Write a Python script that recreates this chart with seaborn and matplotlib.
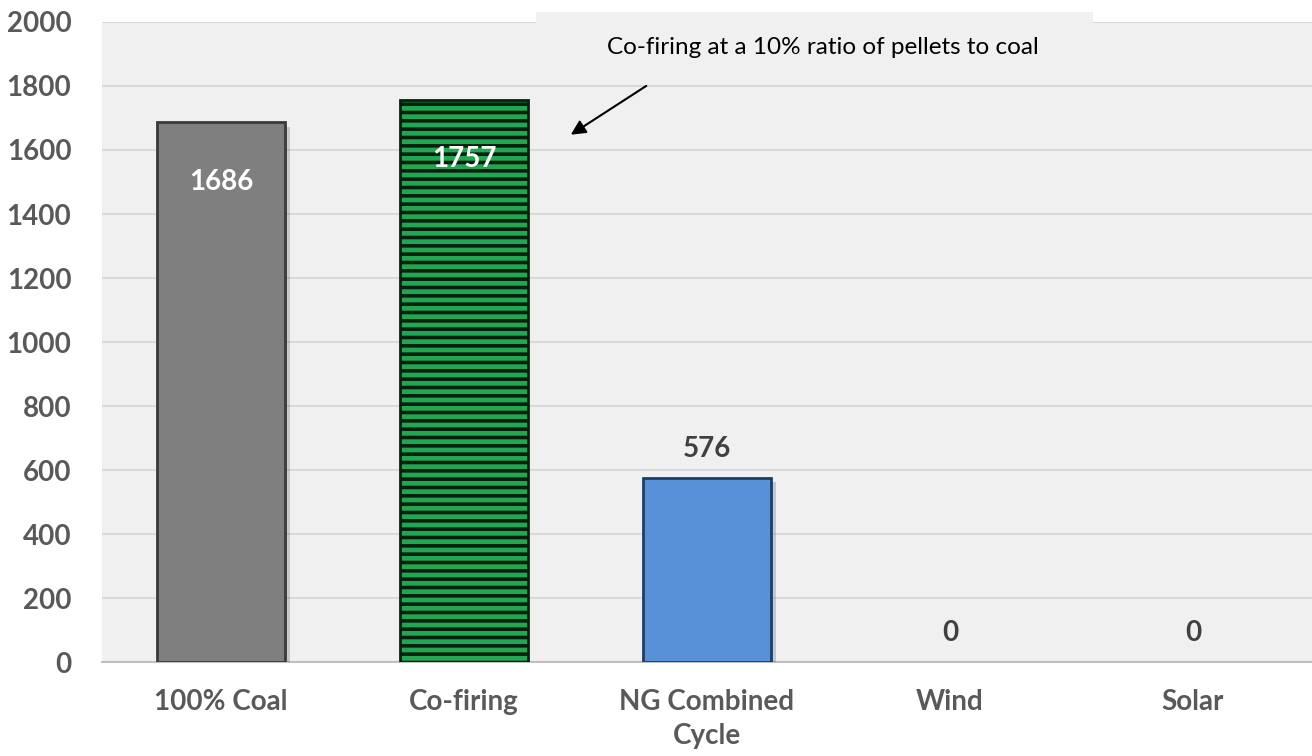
import seaborn as sns
import matplotlib.pyplot as plt
import matplotlib.patheffects as pe
import pandas as pd

categories = ["100% Coal", "Co-firing", "NG Combined\nCycle", "Wind", "Solar"]
values = [1686, 1757, 576, 0, 0]
bar_colors = ["#7f7f7f", "#22a653", "#5891d8", "#5891d8", "#5891d8"]
edge_colors = ["#3a3a3a", "#06200e", "#1f3d66", "#1f3d66", "#1f3d66"]
y_ticks = list(range(0, 2001, 200))
note = "Co-firing at a 10% ratio of pellets to coal"

sns.set_style("white")
plt.rcParams["font.family"] = ["Lato", "DejaVu Sans"]
plt.rcParams["hatch.linewidth"] = 2.6
plt.rcParams["hatch.color"] = "black"

df = pd.DataFrame({"cat": categories, "val": values})

fig = plt.figure(figsize=(13.12, 7.56), dpi=100)
ax = fig.add_axes([0.0777, 0.124, 0.9223, 0.847])
ax.set_facecolor("#f0f0f0")

sns.barplot(data=df, x="cat", y="val", hue="cat", palette=bar_colors,
            saturation=1, width=0.525, legend=False, ax=ax, zorder=3)

for i, (p, ec, v) in enumerate(zip(ax.patches, edge_colors, values)):
    p.set_edgecolor(ec)
    p.set_linewidth(2.0 if v > 0 else 0)
    if v > 0 and i != 1:
        p.set_path_effects([pe.SimplePatchShadow(offset=(4, -3), alpha=0.2),
                            pe.Normal()])
ax.patches[1].set_hatch("--")

# data labels
for i, v in enumerate(values):
    if v > 1000:
        ax.text(i, v - 185, str(v), ha="center", va="center", color="white",
                fontsize=20, fontweight="bold", zorder=5)
    else:
        ax.text(i, v + 90, str(v), ha="center", va="center", color="#404040",
                fontsize=20, fontweight="bold", zorder=5)

ax.set_ylim(0, 2000)
ax.set_yticks(y_ticks)
ax.set_xlim(-0.49, 4.49)
ax.yaxis.grid(True, color="#d9d9d9", linewidth=1.5, zorder=0)
ax.set_axisbelow(True)
for s in ["top", "right", "left"]:
    ax.spines[s].set_visible(False)
ax.spines["bottom"].set_color("#bfbfbf")
ax.spines["bottom"].set_linewidth(1.5)
ax.tick_params(axis="both", length=0, labelsize=20, labelcolor="#595959")
ax.tick_params(axis="y", pad=22)
ax.tick_params(axis="x", pad=19)
for lbl in ax.get_xticklabels() + ax.get_yticklabels():
    lbl.set_fontweight("bold")
for lbl in ax.get_xticklabels():
    lbl.set_linespacing(1.42)
ax.set_xlabel("")
ax.set_ylabel("")

# annotation box and arrow
fig.patches.append(plt.Rectangle((536 / 1312, 1 - 60 / 756), (1093 - 536) / 1312, 48 / 756,
                                 transform=fig.transFigure, facecolor="#f0f0f0",
                                 edgecolor="none", zorder=4))
fig.text(823 / 1312, 1 - 47 / 756, note, ha="center", va="center",
         fontsize=17.5, color="black", zorder=6)
ax.annotate("", xy=(1.43, 1643), xytext=(1.76, 1805),
            arrowprops=dict(arrowstyle="-|>", color="black", lw=1.5,
                            mutation_scale=22), zorder=6)

fig.savefig("out.png", dpi=100)
